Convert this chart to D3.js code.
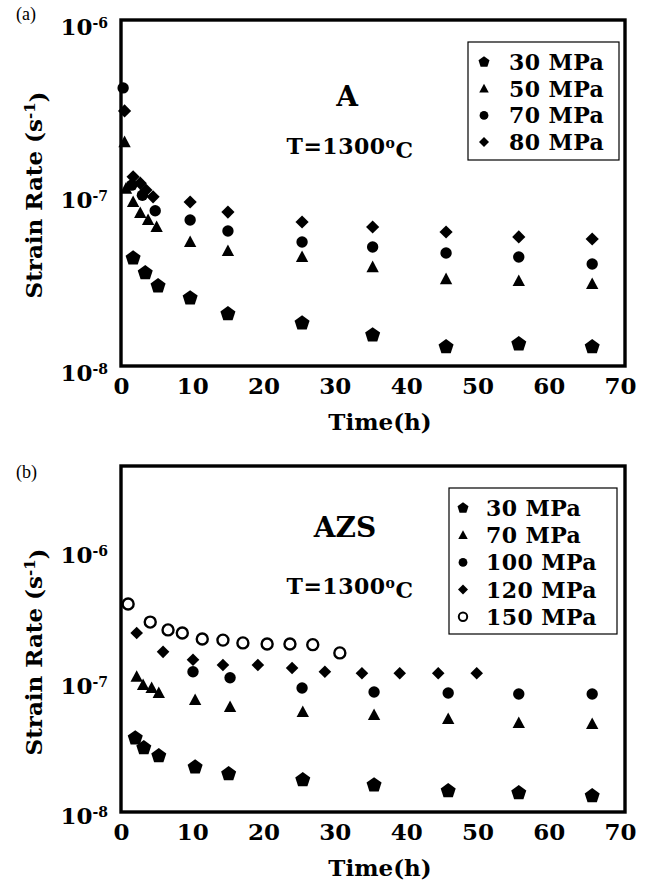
<!DOCTYPE html>
<html>
<head>
<meta charset="utf-8">
<script src="https://cdn.jsdelivr.net/npm/d3@7"></script>
<style>
    body { margin: 0; background: #fff; }
    svg text { font-family: "DejaVu Serif", serif; font-weight: bold; fill: #000; }
    .panel-tag { font-family: "Liberation Serif", serif; font-weight: normal; }
</style>
</head>
<body>
<div id="chart"></div>
<script>
// ---- panel (a): alumina A ----
const aTime30 = [1.7, 3.4, 5.2, 9.7, 15.0, 25.4, 35.3, 45.6, 55.8, 66.1];
const aRate30 = [4.2e-8, 3.45e-8, 2.9e-8, 2.47e-8, 2.0e-8, 1.77e-8, 1.51e-8, 1.29e-8, 1.34e-8, 1.29e-8];
const aTime50 = [0.5, 0.7, 1.7, 2.7, 3.8, 5.0, 9.7, 15.0, 25.4, 35.3, 45.6, 55.8, 66.1];
const aRate50 = [1.97e-7, 1.06e-7, 8.87e-8, 7.66e-8, 6.98e-8, 6.36e-8, 5.21e-8, 4.62e-8, 4.27e-8, 3.73e-8, 3.18e-8, 3.10e-8, 2.98e-8];
const aTime70 = [0.3, 1.5, 3.0, 4.8, 9.7, 15.0, 25.4, 35.3, 45.6, 55.8, 66.1];
const aRate70 = [4.05e-7, 1.11e-7, 9.7e-8, 7.9e-8, 6.98e-8, 6.03e-8, 5.21e-8, 4.87e-8, 4.5e-8, 4.27e-8, 3.89e-8];
const aTime80 = [0.5, 1.7, 2.7, 3.5, 4.5, 9.7, 15.0, 25.4, 35.3, 45.6, 55.8, 66.1];
const aRate80 = [2.98e-7, 1.24e-7, 1.14e-7, 1.04e-7, 9.5e-8, 8.87e-8, 7.76e-8, 6.8e-8, 6.36e-8, 5.95e-8, 5.57e-8, 5.42e-8];

// ---- panel (b): AZS ----
const bTime30 = [2.0, 3.2, 5.3, 10.4, 15.1, 25.5, 35.5, 45.9, 55.8, 66.1];
const bRate30 = [3.69e-8, 3.10e-8, 2.69e-8, 2.21e-8, 1.96e-8, 1.76e-8, 1.61e-8, 1.45e-8, 1.40e-8, 1.33e-8];
const bTime70 = [2.2, 3.1, 4.3, 5.3, 10.4, 15.3, 25.5, 35.5, 45.9, 55.8, 66.1];
const bRate70 = [1.09e-7, 9.42e-8, 8.93e-8, 8.18e-8, 7.22e-8, 6.39e-8, 5.85e-8, 5.54e-8, 5.17e-8, 4.81e-8, 4.73e-8];
const bTime100 = [10.1, 15.3, 25.4, 35.5, 45.9, 55.8, 66.1];
const bRate100 = [1.19e-7, 1.07e-7, 8.93e-8, 8.32e-8, 8.18e-8, 8.04e-8, 8.04e-8];
const bTime120 = [2.2, 5.9, 10.1, 14.3, 19.2, 24.0, 28.6, 33.8, 39.1, 44.5, 49.9];
const bRate120 = [2.36e-7, 1.69e-7, 1.47e-7, 1.34e-7, 1.34e-7, 1.27e-7, 1.19e-7, 1.16e-7, 1.16e-7, 1.16e-7, 1.16e-7];
const bTime150 = [1.0, 4.1, 6.6, 8.6, 11.4, 14.3, 17.1, 20.5, 23.7, 26.9, 30.7];
const bRate150 = [3.94e-7, 2.86e-7, 2.49e-7, 2.36e-7, 2.12e-7, 2.08e-7, 1.98e-7, 1.94e-7, 1.94e-7, 1.92e-7, 1.66e-7];

const xTicks = [0, 10, 20, 30, 40, 50, 60, 70];
const yTicks = [1e-8, 1e-7, 1e-6];

// custom marker shapes, size = r^2
const symPentagon = {
    draw(ctx, size) {
        const r = Math.sqrt(size);
        for (let k = 0; k < 5; k++) {
            const a = -Math.PI / 2 + k * 2 * Math.PI / 5;
            k === 0 ? ctx.moveTo(r * Math.cos(a), r * Math.sin(a)) : ctx.lineTo(r * Math.cos(a), r * Math.sin(a));
        }
        ctx.closePath();
    }
};
const symTriangle = {
    draw(ctx, size) {
        const r = Math.sqrt(size);
        ctx.moveTo(0, -r);
        ctx.lineTo(0.95 * r, 0.78 * r);
        ctx.lineTo(-0.95 * r, 0.78 * r);
        ctx.closePath();
    }
};
const symDiamond = {
    draw(ctx, size) {
        const r = Math.sqrt(size);
        ctx.moveTo(0, -r);
        ctx.lineTo(r, 0);
        ctx.lineTo(0, r);
        ctx.lineTo(-r, 0);
        ctx.closePath();
    }
};
const symCircle = {
    draw(ctx, size) {
        const r = Math.sqrt(size);
        ctx.moveTo(r, 0);
        ctx.arc(0, 0, r, 0, 2 * Math.PI);
    }
};

class StrainPanel {
    constructor(_config, _series) {
        this.config = _config;
        this.series = _series;
        this.initVis();
    }

    initVis() {
        const vis = this;
        const c = vis.config;

        vis.xScale = d3.scaleLinear().domain([0, 70]).range([c.left, c.right]);
        vis.yScale = d3.scaleLog().domain(c.yDomain).range([c.bottom, c.top]);

        vis.g = c.svg.append('g');

        // frame
        vis.g.append('rect')
            .attr('x', c.left)
            .attr('y', c.top)
            .attr('width', c.frameRight - c.left)
            .attr('height', c.bottom - c.top)
            .attr('fill', 'none')
            .attr('stroke', '#000')
            .attr('stroke-width', 3.4);

        const xAxis = d3.axisBottom(vis.xScale)
            .tickValues(xTicks)
            .tickSize(0)
            .tickPadding(12)
            .tickFormat(d3.format('d'));
        const xg = vis.g.append('g')
            .attr('transform', `translate(0,${c.bottom})`)
            .call(xAxis);
        xg.select('.domain').remove();
        xg.selectAll('text')
            .attr('fill', '#000')
            .style('font-size', '23px')
            .style('font-family', '"DejaVu Serif", serif')
            .style('font-weight', 'bold');

        const yAxis = d3.axisLeft(vis.yScale)
            .tickValues(yTicks)
            .tickSize(0)
            .tickPadding(13)
            .tickFormat(() => '');
        const yg = vis.g.append('g')
            .attr('transform', `translate(${c.left},0)`)
            .call(yAxis);
        yg.select('.domain').remove();
        yg.selectAll('text')
            .attr('fill', '#000')
            .attr('dy', c.yTickDy)
            .style('font-size', '23px')
            .style('font-family', '"DejaVu Serif", serif')
            .style('font-weight', 'bold')
            .each(function (d) {
                const t = d3.select(this);
                t.append('tspan').text('10');
                t.append('tspan')
                    .attr('dy', '-0.5em')
                    .style('font-size', '14px')
                    .text(Math.round(Math.log10(d)));
            });

        // axis titles
        vis.g.append('text')
            .attr('x', 380)
            .attr('y', c.bottom + 64)
            .attr('text-anchor', 'middle')
            .style('font-size', '23px')
            .text('Time(h)');

        const yt = vis.g.append('text')
            .attr('transform', `translate(42,${c.yTitleY}) rotate(-90)`)
            .attr('text-anchor', 'middle')
            .style('font-size', '23px');
        yt.append('tspan').text('Strain Rate (s');
        yt.append('tspan').attr('dy', '-0.45em').style('font-size', '15px').text('-1');
        yt.append('tspan').attr('dy', '0.45em').text(')');

        vis.g.append('text')
            .attr('class', 'panel-tag')
            .attr('x', 16)
            .attr('y', c.tagY)
            .style('font-size', '18px')
            .text(c.tag);

        // material label + temperature
        vis.g.append('text')
            .attr('x', c.nameX)
            .attr('y', c.nameY)
            .attr('text-anchor', 'middle')
            .style('font-size', '28px')
            .text(c.name);

        const tt = vis.g.append('text')
            .attr('x', 350)
            .attr('y', c.tempY)
            .attr('text-anchor', 'middle')
            .style('font-size', '22px')
            .style('letter-spacing', '0.5px');
        tt.append('tspan').text('T=1300');
        tt.append('tspan').attr('dy', '-0.45em').style('font-size', '14px').text('o');
        tt.append('tspan').attr('dy', '0.45em').text('C');

        vis.renderVis();
        vis.renderLegend();
    }

    renderVis() {
        const vis = this;
        vis.series.forEach(s => {
            const pts = s.time.map((t, i) => ({ t: t, v: s.rate[i] }));
            vis.g.append('g').selectAll('path')
                .data(pts)
                .join('path')
                .attr('transform', d => `translate(${vis.xScale(d.t)},${vis.yScale(d.v)})`)
                .attr('d', d3.symbol().type(s.type).size(s.r * s.r))
                .attr('fill', s.open ? 'none' : '#000')
                .attr('stroke', s.open ? '#000' : 'none')
                .attr('stroke-width', s.open ? 2.4 : 0);
        });
    }

    renderLegend() {
        const vis = this;
        const L = vis.config.legend;
        vis.g.append('rect')
            .attr('x', L.x)
            .attr('y', L.y)
            .attr('width', L.w)
            .attr('height', L.h)
            .attr('fill', '#fff')
            .attr('stroke', '#000')
            .attr('stroke-width', 1.2);

        const rows = vis.g.append('g').selectAll('g')
            .data(vis.series)
            .join('g')
            .attr('transform', (d, i) => `translate(${L.x},${L.y + L.first + i * L.step})`);

        rows.append('path')
            .attr('transform', `translate(${L.symX},0)`)
            .attr('d', d => d3.symbol().type(d.type).size(d.lr * d.lr)())
            .attr('fill', d => d.open ? 'none' : '#000')
            .attr('stroke', d => d.open ? '#000' : 'none')
            .attr('stroke-width', d => d.open ? 2 : 0);

        rows.append('text')
            .attr('x', L.textX)
            .attr('dy', '0.36em')
            .style('font-size', '22px')
            .style('letter-spacing', '0.4px')
            .text(d => d.label);
    }
}

const svg = d3.select('#chart').append('svg')
    .attr('width', 656)
    .attr('height', 884);

new StrainPanel({
    svg: svg, tag: '(a)', tagY: 20, name: 'A', nameX: 347, nameY: 106, tempY: 154,
    left: 121, right: 620, frameRight: 625, top: 20, bottom: 366,
    yDomain: [1e-8, 1e-6], yTitleY: 195, yTickDy: '0.62em',
    legend: { x: 468, y: 42, w: 151, h: 118, first: 20, step: 26.7, symX: 16, textX: 41 }
}, [
    { label: '30 MPa', time: aTime30, rate: aRate30, type: symPentagon, r: 7.9, lr: 5.8 },
    { label: '50 MPa', time: aTime50, rate: aRate50, type: symTriangle, r: 6.5, lr: 5 },
    { label: '70 MPa', time: aTime70, rate: aRate70, type: symCircle, r: 5.7, lr: 4.4 },
    { label: '80 MPa', time: aTime80, rate: aRate80, type: symDiamond, r: 6.6, lr: 5 }
]);

new StrainPanel({
    svg: svg, tag: '(b)', tagY: 478, name: 'AZS', nameX: 345, nameY: 537, tempY: 594,
    left: 121, right: 620, frameRight: 625, top: 466, bottom: 812,
    yDomain: [1e-8, 4.5e-6], yTitleY: 652, yTickDy: '0.5em',
    legend: { x: 449, y: 488, w: 168, h: 146, first: 20, step: 27.2, symX: 14, textX: 37 }
}, [
    { label: '30 MPa', time: bTime30, rate: bRate30, type: symPentagon, r: 7.9, lr: 5.8 },
    { label: '70 MPa', time: bTime70, rate: bRate70, type: symTriangle, r: 6.5, lr: 5 },
    { label: '100 MPa', time: bTime100, rate: bRate100, type: symCircle, r: 5.7, lr: 4.4 },
    { label: '120 MPa', time: bTime120, rate: bRate120, type: symDiamond, r: 6.3, lr: 5 },
    { label: '150 MPa', time: bTime150, rate: bRate150, type: symCircle, r: 5.5, lr: 4.2, open: true }
]);
</script>
</body>
</html>
